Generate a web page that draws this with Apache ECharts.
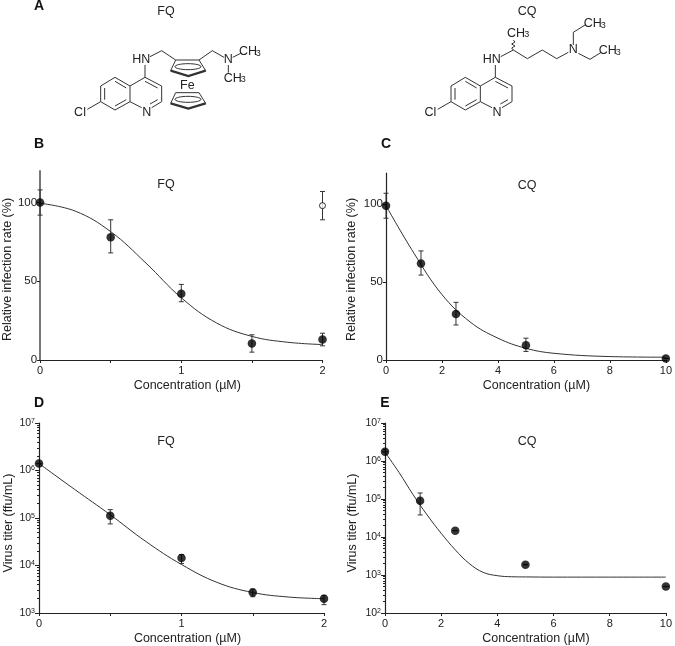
<!DOCTYPE html>
<html><head><meta charset="utf-8">
<style>html,body{margin:0;padding:0;background:#fff}#c{width:675px;height:646px}</style>
<script src="https://cdn.jsdelivr.net/npm/echarts@6/dist/echarts.min.js"></script>
</head><body><div id="c"></div>
<script>
// [concentration, value, low, high]
const bPoints=[[0,100,92,108],[0.5,78,68,89],[1,42,37,48],[1.5,10.5,5,16],[2,13,9,17]];
const bOpen=[[2,98,89,107]];
const bCurve=[[0,99.5],[0.25,94.5],[0.5,81.5],[0.75,61.5],[1,39.5],[1.25,23.5],[1.5,15],[1.75,11.3],[2,9.8]];
const cPoints=[[0,99,91,107],[1.25,62,54.5,70],[2.5,29.5,22.5,37],[5,9.5,5.5,14],[10,1,1,1]];
const cCurve=[[0,99],[1,68.5],[2,42],[3,24.5],[4,14],[5,7.5],[6,4.3],[8,2.2],[10,1.8]];
const dPoints=[[0,1.4e6,1.4e6,1.4e6],[0.5,1.12e5,7.5e4,1.5e5],[1,1.44e4,1.1e4,1.7e4],[1.5,2.7e3,2.2e3,3.2e3],[2,2.0e3,1.5e3,2.35e3]];
const dCurve=[[0,1.4e6],[0.25,4e5],[0.5,1.17e5],[0.75,3.2e4],[1,1.05e4],[1.25,4.4e3],[1.5,2.7e3],[1.75,2.17e3],[2,2.0e3]];
const ePoints=[[0,1.76e6,1.76e6,1.76e6],[1.25,9e4,3.8e4,1.44e5],[2.5,1.47e4,1.47e4,1.47e4],[5,1.87e3,1.87e3,1.87e3],[10,5e2,5e2,5e2]];
const eCurve=[[0,1.7e6],[0.5,5e5],[1,1.3e5],[1.5,3.8e4],[2,1.25e4],[2.5,4.6e3],[3,2e3],[3.5,1.17e3],[4,9.6e2],[4.5,9e2],[5,8.9e2],[6,8.8e2],[7,8.8e2],[8,8.8e2],[9,8.8e2],[10,8.8e2]];
const fqTicks=[0,0.5,1,1.5,2], fqLabels=[0,1,2];
const cqTicks=[0,2,4,6,8,10];
const rateTicks=[0,50,100];
const xName='Concentration (µM)', rateName='Relative infection rate (%)', titerName='Virus titer (ffu/mL)';

const ink='#222', font='"Liberation Sans",Arial,sans-serif';
const grids=[
 {left:39,top:171,width:283.5,height:189},
 {left:386,top:173,width:281,height:187},
 {left:39,top:423,width:285,height:190},
 {left:385,top:423,width:285,height:190}];
const panels=[
 {pts:bPoints,open:bOpen,curve:bCurve,log:false,xT:fqTicks,xL:fqLabels,xMax:2,name:rateName,yMin:0,yMax:120,xPad:[0,0,0,12],yPad:[0,8,0,0],yGap:24},
 {pts:cPoints,curve:cCurve,log:false,xT:cqTicks,xL:cqTicks,xMax:10,name:rateName,yMin:0,yMax:120,xPad:[0,0,0,21],yPad:[0,6,0,0],yGap:28},
 {pts:dPoints,curve:dCurve,log:true,xT:fqTicks,xL:fqLabels,xMax:2,name:titerName,yMin:1e3,yMax:1e7,xPad:[0,0,0,12],yPad:[0,10,0,0],yGap:23},
 {pts:ePoints,curve:eCurve,log:true,xT:cqTicks,xL:cqTicks,xMax:10,name:titerName,yMin:1e2,yMax:1e7,xPad:[0,0,0,21],yPad:[0,10,0,0],yGap:26}];

const xAxis=[],yAxis=[],series=[];
function errSeries(i,data){return{type:'custom',xAxisIndex:i,yAxisIndex:i,clip:false,z:3,silent:true,
  data:data,encode:{x:0,y:[2,3]},
  renderItem(p,api){
    const a=api.coord([api.value(0),api.value(2)]),b=api.coord([api.value(0),api.value(3)]);
    const st={stroke:'#333',lineWidth:1,fill:null},w=2.5;
    return{type:'group',children:[
      {type:'line',shape:{x1:a[0],y1:a[1],x2:b[0],y2:b[1]},style:st},
      {type:'line',shape:{x1:a[0]-w,y1:a[1],x2:a[0]+w,y2:a[1]},style:st},
      {type:'line',shape:{x1:b[0]-w,y1:b[1],x2:b[0]+w,y2:b[1]},style:st}]};
  }};}
panels.forEach((p,i)=>{
  xAxis.push({gridIndex:i,type:'value',min:0,max:p.xMax,name:xName,nameLocation:'middle',nameGap:19,
    nameTextStyle:{fontFamily:font,fontSize:12.5,color:ink,padding:p.xPad},
    axisLine:{show:true,onZero:false,lineStyle:{color:ink,width:1.2}},
    axisTick:{show:true,length:3,customValues:p.xT,lineStyle:{color:ink}},
    axisLabel:{customValues:p.xL,fontFamily:font,fontSize:11,color:ink,margin:5,hideOverlap:false,showMinLabel:true,showMaxLabel:true},
    splitLine:{show:false}});
  const y={gridIndex:i,name:p.name,nameLocation:'middle',min:p.yMin,max:p.yMax,
    nameGap:p.yGap,nameTextStyle:{fontFamily:font,fontSize:12.5,color:ink,padding:p.yPad},
    axisLine:{show:true,onZero:false,lineStyle:{color:i===0?'#777':ink,width:i===0?2:1.2}},splitLine:{show:false}};
  if(p.log){
    y.type='log';y.logBase=10;
    y.axisTick={show:true,length:4,lineStyle:{color:ink}};
    y.minorTick={show:true,splitNumber:9,length:2,lineStyle:{color:ink}};
    y.minorSplitLine={show:false};
    y.axisLabel={fontFamily:font,fontSize:10.5,color:ink,margin:4,
      formatter:v=>'{b|10}{s|'+Math.round(Math.log10(v))+'}',
      rich:{b:{fontFamily:font,fontSize:10.5,color:ink},s:{fontFamily:font,fontSize:7,color:ink,verticalAlign:'top',padding:[0,0,4,0]}}};
  }else{
    y.type='value';
    y.axisTick={show:true,length:3,customValues:rateTicks,lineStyle:{color:ink}};
    y.axisLabel={customValues:rateTicks,fontFamily:font,fontSize:11.5,color:ink,margin:3};
  }
  yAxis.push(y);
  series.push({type:'line',xAxisIndex:i,yAxisIndex:i,data:p.curve,smooth:0.4,symbol:'none',clip:false,z:2,silent:true,
    lineStyle:{color:'#333',width:1}});
  series.push(errSeries(i,p.pts));
  series.push({type:'scatter',xAxisIndex:i,yAxisIndex:i,data:p.pts.map(d=>[d[0],d[1]]),symbol:'circle',symbolSize:8.5,clip:false,z:4,silent:true,
    itemStyle:{color:'#000'}});
  if(p.open){
    series.push(errSeries(i,p.open));
    series.push({type:'scatter',xAxisIndex:i,yAxisIndex:i,data:p.open.map(d=>[d[0],d[1]]),symbol:'circle',symbolSize:6,clip:false,z:4,silent:true,
      itemStyle:{color:'#fff',borderColor:'#000',borderWidth:1}});
  }
});

// Structural formulas, drawn in a 3x working space and scaled down
const bondStyle={stroke:'#333',lineWidth:1,fill:null};
function poly(pts,ox,w){return{type:'polyline',shape:{points:pts.map(q=>[(q[0]+ox)/3,q[1]/3])},style:Object.assign({},bondStyle,w?{lineWidth:w}:{})};}
function atom(t,x,y,ox,fs){return{type:'text',x:(x+ox)/3,y:y/3,style:{text:t,font:(fs||12.5)+'px '+font,fill:ink,align:'center',verticalAlign:'middle'}};}
function quinoline(ox){return[
  poly([[262,328],[302,305],[302,258],[345,232],[390,258],[390,305],[345,330],[302,305]],ox),
  poly([[314,299],[314,264]],ox),poly([[345,244],[379,264]],ox),poly([[379,299],[345,318]],ox),
  poly([[390,258],[435,232],[485,258],[485,305],[455,323]],ox),poly([[425,323],[390,305]],ox),
  poly([[435,244],[473,264]],ox),poly([[473,299],[450,312]],ox),
  poly([[435,232],[435,195]],ox),
  atom('Cl',240,338,ox),atom('N',440,338,ox),atom('HN',424,178,ox)];}
function cp(o,ox){return[
  poly([[527,180+o],[597,180+o],[617,212+o],[565,228+o],[512,212+o],[527,180+o]],ox),
  poly([[512,212+o],[565,228+o],[617,212+o]],ox,2.2),
  {type:'ellipse',shape:{cx:(564+ox)/3,cy:(200+o)/3,rx:13,ry:3},style:bondStyle}];}
const fqStruct=[
  ...quinoline(0),
  poly([[450,170],[485,152],[527,180]],0),
  ...cp(0,0),...cp(98,0),
  poly([[597,180],[637,152],[672,172]],0),
  poly([[698,172],[722,160]],0),poly([[685,195],[685,218]],0),
  atom('N',685,180,0),atom('CH',744,155,0),atom('3',775,160,0,9),atom('CH',698,235,0),atom('3',730,240,0,9),atom('Fe',562,256,0)];
const cqStruct=[
  ...quinoline(1051),
  poly([[482,170],[520,150],[562,176],[607,150],[650,176],[685,157]],1020),
  poly([[520,150],[515,144],[525,138],[515,132],[525,126],[520,120]],1020),
  poly([[700,135],[700,97],[735,75]],1020),
  poly([[715,160],[750,178],[782,158]],1020),
  atom('N',700,150,1020),atom('CH',528,100,1020),atom('3',560,105,1020,9),
  atom('CH',758,72,1020),atom('3',790,77,1020,9),atom('CH',803,152,1020),atom('3',835,157,1020,9)];

const letters=[['A',39,6],['B',39,144],['C',386,144],['D',39,403],['E',385,403]];
const heads=[['FQ',166,12],['CQ',527,12],['FQ',166,185],['CQ',527,186],['FQ',166,442],['CQ',527,442]];
const title=[
  ...letters.map(l=>({text:l[0],left:l[1],top:l[2]-7,textAlign:'center',padding:0,textStyle:{fontFamily:font,fontSize:14,fontWeight:'bold',color:'#111',lineHeight:14}})),
  ...heads.map(l=>({text:l[0],left:l[1],top:l[2]-7,textAlign:'center',padding:0,textStyle:{fontFamily:font,fontSize:12.5,fontWeight:'normal',color:ink,lineHeight:14}}))];

const chart=echarts.init(document.getElementById('c'),null,{renderer:'canvas'});
chart.setOption({animation:false,backgroundColor:'#fff',title,grid:grids,xAxis,yAxis,series,
  graphic:{elements:[...fqStruct,...cqStruct]}});
</script></body></html>
